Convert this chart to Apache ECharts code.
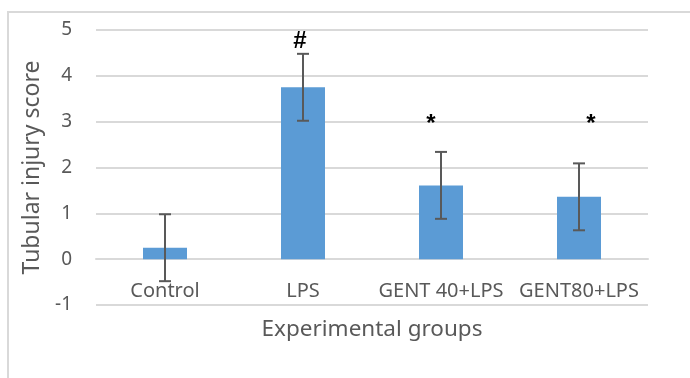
<!DOCTYPE html>
<html>
<head>
<meta charset="utf-8">
<script src="https://cdn.jsdelivr.net/npm/echarts@6/dist/echarts.min.js"></script>
<style>
  html, body { margin: 0; padding: 0; background: #fff; }
  #chart { width: 690px; height: 378px; }
  #frame { position: absolute; left: 7px; top: 11px; width: 700px; height: 380px;
           border: 2px solid #d9d9d9; box-sizing: border-box; pointer-events: none; }
</style>
</head>
<body>
<div id="chart"></div>
<div id="frame"></div>
<script>
// Tubular injury score per experimental group (mean ± error)
const groups = ['Control', 'LPS', 'GENT 40+LPS', 'GENT80+LPS'];
const scores = [0.25, 3.75, 1.61, 1.36];
const errors = [0.73, 0.73, 0.73, 0.73];
// significance marks and the score level they sit at
const marks = ['', '#', '*', '*'];
const markLevels = [null, 4.75, 2.95, 2.95];
const yTicks = [-1, 0, 1, 2, 3, 4, 5];

const FONT = 'Noto Sans';
const TEXT = '#595959';
// horizontal nudges of each significance mark, in pixels
const markShift = [0, -3, -10, 12];

const GRID = { left: 96, right: 42, top: 30, bottom: 73 };
const PLOT_H = 378 - GRID.top - GRID.bottom;
// lift the category axis from the grid floor up to the zero line
const zeroLift = -PLOT_H * (0 - yTicks[0]) / (yTicks[yTicks.length - 1] - yTicks[0]);

const chart = echarts.init(document.getElementById('chart'));
chart.setOption({
  animation: false,
  grid: Object.assign({ outerBoundsMode: 'none' }, GRID),
  xAxis: {
    type: 'category',
    data: groups,
    offset: zeroLift,
    name: 'Experimental groups',
    nameLocation: 'middle',
    nameGap: 59,
    nameTextStyle: { fontFamily: FONT, fontSize: 22.5, color: TEXT },
    axisLine: { onZero: false, lineStyle: { color: '#d9d9d9', width: 2 } },
    axisTick: { show: false },
    axisLabel: { fontFamily: FONT, fontSize: 20, color: TEXT, margin: 22, interval: 0 }
  },
  yAxis: {
    type: 'value',
    min: yTicks[0],
    max: yTicks[yTicks.length - 1],
    interval: 1,
    name: 'Tubular injury score',
    nameLocation: 'middle',
    nameGap: 52,
    nameTextStyle: { fontFamily: FONT, fontSize: 23, color: TEXT },
    axisLine: { show: false },
    axisTick: { show: false },
    axisLabel: { fontFamily: FONT, fontSize: 19, color: TEXT, margin: 24 },
    splitLine: { lineStyle: { color: '#d9d9d9', width: 2 } }
  },
  series: [
    {
      type: 'bar',
      data: scores,
      barWidth: 44,
      itemStyle: { color: '#5b9bd5' }
    },
    {
      type: 'custom',
      data: scores.map((v, i) => [i, v - errors[i], v + errors[i]]),
      z: 5,
      renderItem: function (params, api) {
        const lo = api.coord([api.value(0), api.value(1)]);
        const hi = api.coord([api.value(0), api.value(2)]);
        const cap = 6;
        const style = { stroke: '#595959', lineWidth: 2 };
        return {
          type: 'group',
          children: [
            { type: 'line', shape: { x1: hi[0], y1: hi[1], x2: lo[0], y2: lo[1] }, style },
            { type: 'line', shape: { x1: hi[0] - cap, y1: hi[1], x2: hi[0] + cap, y2: hi[1] }, style },
            { type: 'line', shape: { x1: lo[0] - cap, y1: lo[1], x2: lo[0] + cap, y2: lo[1] }, style }
          ]
        };
      }
    },
    {
      type: 'custom',
      data: markLevels.map((v, i) => [i, v]),
      z: 6,
      renderItem: function (params, api) {
        const i = params.dataIndex;
        if (!marks[i]) return null;
        const p = api.coord([api.value(0), api.value(1)]);
        return {
          type: 'text',
          x: p[0] + markShift[i],
          y: p[1],
          style: {
            text: marks[i],
            fontFamily: 'Liberation Sans',
            fontWeight: 'bold',
            fontSize: 24,
            fill: '#000',
            align: 'center',
            verticalAlign: 'middle'
          }
        };
      }
    }
  ]
});
</script>
</body>
</html>
